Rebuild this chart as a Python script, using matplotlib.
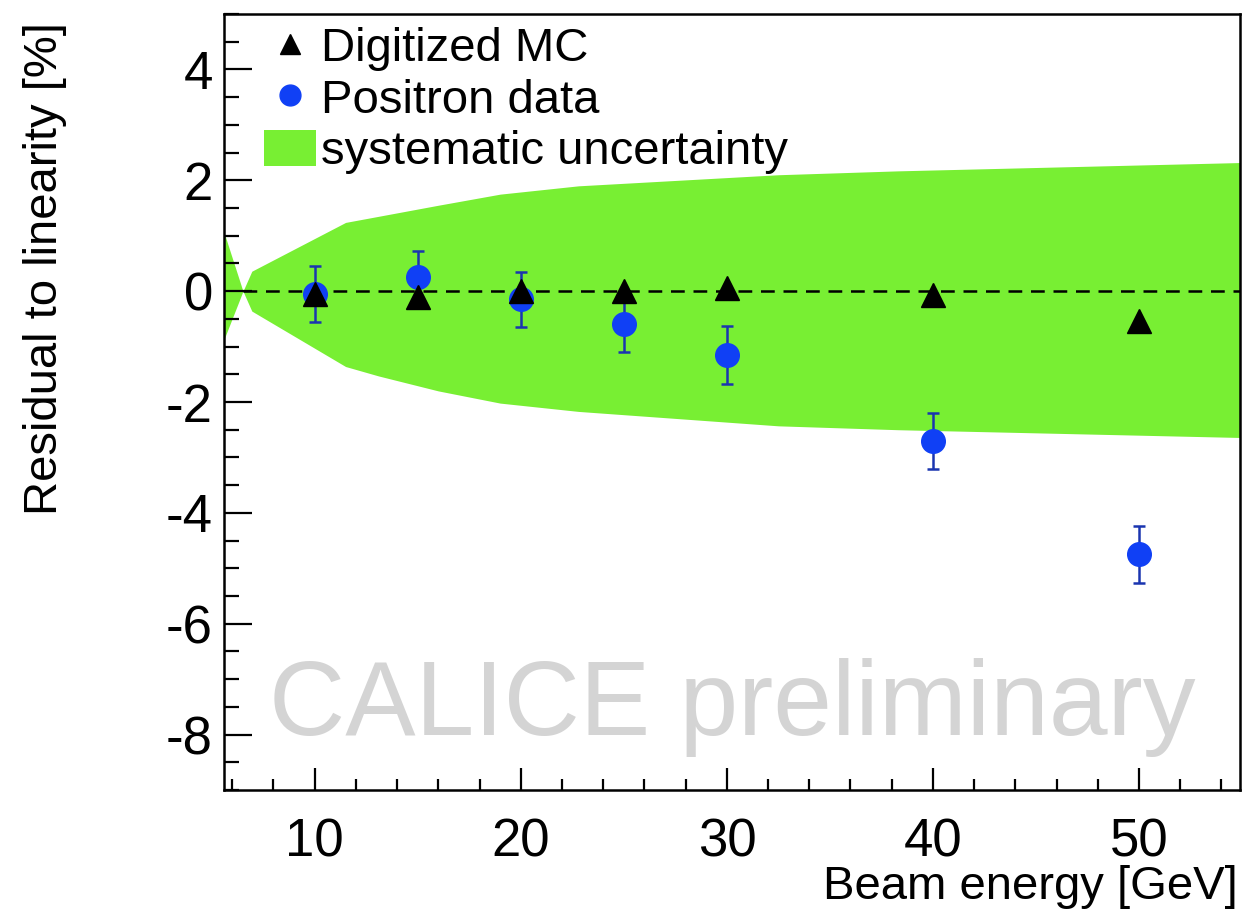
# Residual to linearity vs beam energy, CALICE-style plot
import numpy as np
import matplotlib.pyplot as plt
from matplotlib.lines import Line2D
from matplotlib.patches import Patch
from matplotlib.ticker import MultipleLocator

plt.rcParams['font.family'] = ['Liberation Sans', 'DejaVu Sans']
plt.rcParams['axes.unicode_minus'] = False

# beam energies [GeV]
energy = [10, 15, 20, 25, 30, 40, 50]

# digitized MC residuals [%]
mc_res = [-0.05, -0.1, 0.0, 0.0, 0.05, -0.07, -0.54]

# positron data residuals [%] and errors
data_res = [-0.05, 0.25, -0.15, -0.6, -1.15, -2.7, -4.75]
data_err = [0.5, 0.48, 0.5, 0.5, 0.52, 0.5, 0.52]

# systematic uncertainty band (edges)
band_x = [5.6, 6.52, 6.95, 11.5, 13.1, 16.0, 19.0, 22.8, 32.5, 38.3, 54.9]
band_up = [1.06, 0.0, 0.36, 1.24, 1.35, 1.55, 1.75, 1.9, 2.1, 2.17, 2.32]
band_lo = [-0.87, 0.0, -0.36, -1.36, -1.53, -1.8, -2.02, -2.17, -2.43, -2.5, -2.64]

GREEN = '#78ef33'
BLUE = '#1040f5'
ERRBLUE = '#1a35b0'

fig = plt.figure(figsize=(12.42, 9.14), dpi=100)
ax = fig.add_axes([224/1242, 124/914, 1016/1242, 776/914])

ax.fill_between(band_x, band_lo, band_up, color=GREEN, lw=0, zorder=1)
ax.plot([6.52, 54.9], [0, 0], color='black', ls=(0, (5.5, 3.5)), lw=1.8, zorder=2)

ax.errorbar(energy, data_res, yerr=data_err, fmt='o', ms=17, mfc=BLUE, mec=BLUE,
            ecolor=ERRBLUE, elinewidth=1.8, capsize=4, capthick=1.8, zorder=3)
ax.plot(energy, mc_res, '^', ms=17, color='black', zorder=4)

ax.text(7.8, -8.0, 'CALICE preliminary', fontsize=76, color='#d4d4d4',
        va='baseline', ha='left', zorder=0)

ax.set_xlim(5.6, 54.9)
ax.set_ylim(-9, 5)
ax.xaxis.set_major_locator(MultipleLocator(10))
ax.xaxis.set_minor_locator(MultipleLocator(2))
ax.yaxis.set_major_locator(MultipleLocator(2))
ax.yaxis.set_minor_locator(MultipleLocator(0.5))
ax.set_yticks([-8, -6, -4, -2, 0, 2, 4])

ax.tick_params(which='both', direction='in', top=False, right=False, width=1.6)
ax.tick_params(axis='x', which='major', length=16, labelsize=38, pad=20)
ax.tick_params(axis='x', which='minor', length=8)
ax.tick_params(axis='y', which='major', length=20, labelsize=38, pad=8)
ax.tick_params(axis='y', which='minor', length=11)
for s in ax.spines.values():
    s.set_linewidth(1.8)

fig.text(1238/1242, 1 - 887/914, 'Beam energy [GeV]', fontsize=34,
         ha='right', va='center')
fig.text(45/1242, 1 - 22/914, 'Residual to linearity [%]', fontsize=34,
         rotation=90, ha='center', va='top')

handles = [
    Line2D([], [], marker='^', ls='none', color='black', ms=14),
    Line2D([], [], marker='o', ls='none', color=BLUE, ms=15),
    Patch(facecolor=GREEN, edgecolor='none'),
]
labels = ['Digitized MC', 'Positron data', 'systematic uncertainty']
ax.legend(handles, labels, loc='upper left', bbox_to_anchor=(0.035, 0.99),
          frameon=False, fontsize=34, handlelength=1.1, handleheight=0.8,
          handletextpad=0.1, labelspacing=0.15, borderaxespad=0, borderpad=0.1)

fig.savefig('out.png', dpi=100)
